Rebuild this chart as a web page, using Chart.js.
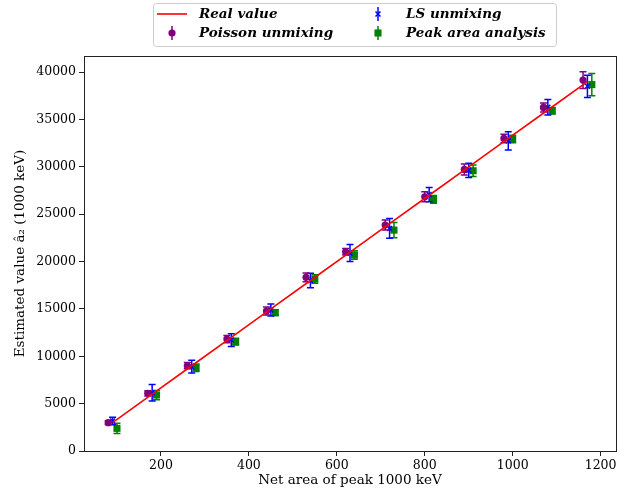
<!DOCTYPE html>
<html>
<head>
<meta charset="utf-8">
<script src="https://cdn.jsdelivr.net/npm/chart.js@4.4.1/dist/chart.umd.min.js"></script>
<style>
html,body{margin:0;padding:0;background:#fff;}
#wrap{position:relative;width:629px;height:493px;}
</style>
</head>
<body>
<div id="wrap"><canvas id="c" width="629" height="493"></canvas></div>
<script>
// ---- data ----
const netArea    = [90,180,270,360,450,540,630,720,810,900,990,1080,1170];
const realValue  = [3000,6000,9000,12000,15000,18000,21000,24000,27000,30000,33000,36000,39000];

const poissonX   = [80,170,260,350,440,530,620,710,800,890,980,1070,1160];
const poissonY   = [2990,6090,9000,11820,14775,18330,21035,23850,26840,29730,33000,36270,39155];
const poissonErr = [200,280,330,380,420,460,350,530,530,580,450,480,880];

const lsX        = [90,180,270,360,450,540,630,720,810,900,990,1080,1170];
const lsY        = [3170,6150,8900,11715,14880,18000,20900,23500,27070,29625,32740,36290,38500];
const lsErr      = [400,880,670,670,630,760,900,1050,760,740,970,830,1180];

const peakX      = [100,190,280,370,460,550,640,730,820,910,1000,1090,1180];
const peakY      = [2390,5910,8790,11540,14600,18150,20690,23320,26560,29585,32930,35915,38680];
const peakErr    = [530,490,400,350,300,450,450,800,400,600,400,350,1180];

const xTicks = [200,400,600,800,1000,1200];
const yTicks = [0,5000,10000,15000,20000,25000,30000,35000,40000];

const seriesLabels = ['Real value','Poisson unmixing','LS unmixing','Peak area analysis'];
const xTitle = 'Net area of peak 1000 keV';
const yTitle = 'Estimated value \u00e2\u2082 (1000 keV)';

// ---- build datasets ----
const pts = (xs, ys) => xs.map((x, i) => ({x: x, y: ys[i]}));
const C = {red:'#ff0000', purple:'#800080', blue:'#0000ff', green:'#008000'};

const datasets = [
  {label: seriesLabels[0], data: pts(netArea, realValue), showLine: true, borderColor: C.red,
   backgroundColor: C.red, borderWidth: 1.6, pointRadius: 0},
  {label: seriesLabels[1], data: pts(poissonX, poissonY), errors: poissonErr, showLine: false,
   pointStyle: 'circle', pointRadius: 3.6, backgroundColor: C.purple, borderColor: C.purple, borderWidth: 0},
  {label: seriesLabels[2], data: pts(lsX, lsY), errors: lsErr, showLine: false,
   pointStyle: 'crossRot', pointRadius: 3.5, backgroundColor: C.blue, borderColor: C.blue, borderWidth: 1.5},
  {label: seriesLabels[3], data: pts(peakX, peakY), errors: peakErr, showLine: false,
   pointStyle: 'rect', pointRadius: 5, backgroundColor: C.green, borderColor: C.green, borderWidth: 0}
];

const SERIF = '"DejaVu Serif", "Liberation Serif", serif';

// error bars drawn through the library scales
const errorBars = {
  id: 'errorBars',
  beforeDatasetDraw(chart, args) {
    const ds = chart.data.datasets[args.index];
    if (!ds.errors) return;
    const meta = args.meta, ys = chart.scales.y, ctx = chart.ctx;
    ctx.save();
    ctx.strokeStyle = ds.borderColor;
    ctx.lineWidth = 1.5;
    meta.data.forEach((el, j) => {
      const v = ds.data[j].y, e = ds.errors[j];
      const x = el.x;
      const y1 = ys.getPixelForValue(v + e), y2 = ys.getPixelForValue(v - e);
      ctx.beginPath();
      ctx.moveTo(x, y1); ctx.lineTo(x, y2);
      ctx.moveTo(x - 3.5, y1); ctx.lineTo(x + 3.5, y1);
      ctx.moveTo(x - 3.5, y2); ctx.lineTo(x + 3.5, y2);
      ctx.stroke();
    });
    ctx.restore();
  }
};

// frame + legend
const frameLegend = {
  id: 'frameLegend',
  afterDraw(chart) {
    const ctx = chart.ctx, a = chart.chartArea;
    ctx.save();
    ctx.strokeStyle = '#222';
    ctx.lineWidth = 1;
    ctx.strokeRect(Math.round(a.left) + 0.5, Math.round(a.top) + 0.5,
                   Math.round(a.right - a.left), Math.round(a.bottom - a.top));

    // legend box
    const bx = 153.5, by = 3.5, bw = 403, bh = 43, r = 3;
    ctx.beginPath();
    ctx.moveTo(bx + r, by);
    ctx.arcTo(bx + bw, by, bx + bw, by + bh, r);
    ctx.arcTo(bx + bw, by + bh, bx, by + bh, r);
    ctx.arcTo(bx, by + bh, bx, by, r);
    ctx.arcTo(bx, by, bx + bw, by, r);
    ctx.closePath();
    ctx.fillStyle = 'rgba(255,255,255,0.8)';
    ctx.fill();
    ctx.strokeStyle = '#cccccc';
    ctx.stroke();

    const cells = [
      {ds: 0, hx: 172, tx: 199, y: 14},
      {ds: 1, hx: 172, tx: 199, y: 33},
      {ds: 2, hx: 378, tx: 406, y: 14},
      {ds: 3, hx: 378, tx: 406, y: 33}
    ];
    cells.forEach(c => {
      const ds = chart.data.datasets[c.ds];
      ctx.strokeStyle = ds.borderColor;
      ctx.fillStyle = ds.backgroundColor;
      if (c.ds === 0) {
        ctx.lineWidth = 1.6;
        ctx.beginPath(); ctx.moveTo(c.hx - 15, c.y); ctx.lineTo(c.hx + 15, c.y); ctx.stroke();
      } else {
        ctx.lineWidth = 1.5;
        ctx.beginPath(); ctx.moveTo(c.hx, c.y - 7); ctx.lineTo(c.hx, c.y + 7); ctx.stroke();
        ctx.strokeStyle = ds.borderColor;
        ctx.fillStyle = ds.backgroundColor;
        Chart.helpers.drawPoint(ctx, {pointStyle: ds.pointStyle, radius: ds.pointRadius,
          borderWidth: ds.borderWidth, rotation: 0}, c.hx, c.y);
      }
      ctx.font = 'italic bold 13.5px ' + SERIF;
      ctx.textBaseline = 'middle';
      ctx.textAlign = 'left';
      ctx.fillStyle = '#000';
      ctx.fillText(ds.label, c.tx, c.y + 0.5);
    });
    ctx.restore();
  }
};

const plain = v => String(v);

new Chart(document.getElementById('c'), {
  type: 'scatter',
  data: {datasets: datasets},
  options: {
    responsive: false,
    animation: false,
    devicePixelRatio: 1,
    layout: {padding: {top: 56, right: 13, left: 0, bottom: 0}},
    plugins: {legend: {display: false}, tooltip: {enabled: false}},
    scales: {
      x: {
        type: 'linear', min: 25, max: 1235,
        afterBuildTicks: s => { s.ticks = xTicks.map(v => ({value: v})); },
        afterFit: s => { s.height = 42; },
        grid: {drawOnChartArea: false, drawTicks: true, tickLength: 5, color: '#222', lineWidth: 1},
        border: {display: false},
        ticks: {color: '#000', padding: 2, maxRotation: 0, callback: plain,
                font: {family: SERIF, size: 12.5}},
        title: {display: true, text: xTitle, color: '#000', padding: {top: 0, bottom: 4},
                font: {family: SERIF, size: 13.5}}
      },
      y: {
        type: 'linear', min: 0, max: 41700,
        afterBuildTicks: s => { s.ticks = yTicks.map(v => ({value: v})); },
        afterFit: s => { s.width = 84; },
        grid: {drawOnChartArea: false, drawTicks: true, tickLength: 5, color: '#222', lineWidth: 1},
        border: {display: false},
        ticks: {color: '#000', padding: 3, callback: plain, font: {family: SERIF, size: 12.5}},
        title: {display: true, text: yTitle, color: '#000', padding: {top: 12, bottom: 0},
                font: {family: SERIF, size: 13.5}}
      }
    }
  },
  plugins: [errorBars, frameLegend]
});
</script>
</body>
</html>
